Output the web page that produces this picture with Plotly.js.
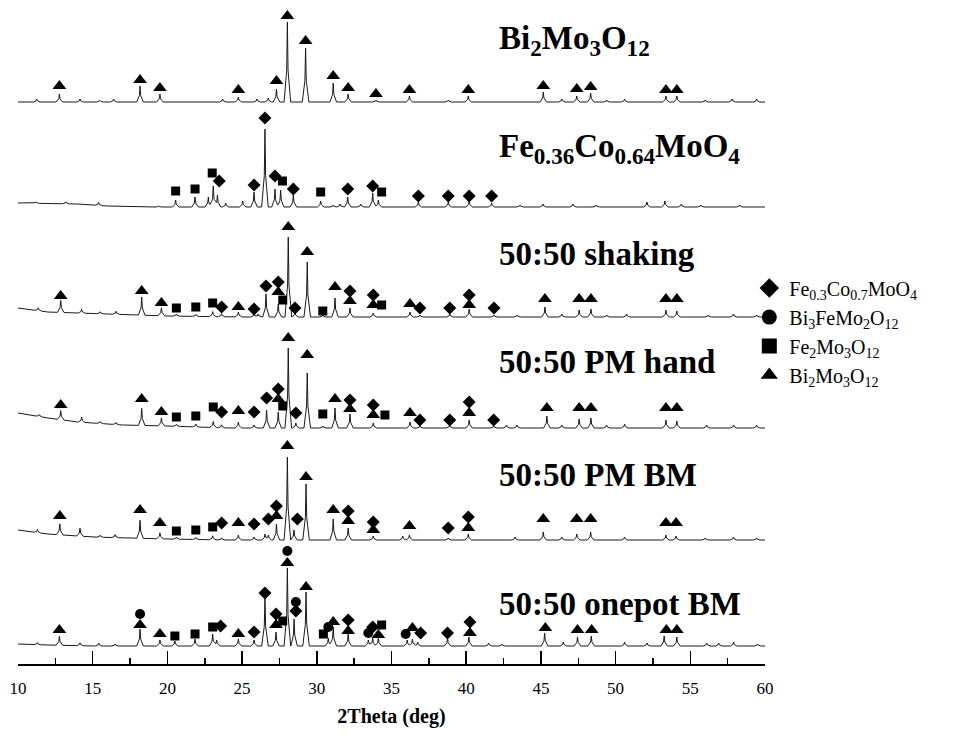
<!DOCTYPE html>
<html><head><meta charset="utf-8">
<script src="https://cdn.plot.ly/plotly-3.0.1.min.js"></script>
<style>body{margin:0;background:#fff}</style>
</head><body><div id="chart" style="width:965px;height:750px"></div>
<script>
// ---------------- DATA ----------------
const sampleNames = ["Bi<sub>2</sub>Mo<sub>3</sub>O<sub>12</sub>", "Fe<sub>0.36</sub>Co<sub>0.64</sub>MoO<sub>4</sub>", "50:50 shaking", "50:50 PM hand", "50:50 PM BM", "50:50 onepot BM"];
const phaseNames = ["Fe<sub>0.3</sub>Co<sub>0.7</sub>MoO<sub>4</sub>", "Bi<sub>3</sub>FeMo<sub>2</sub>O<sub>12</sub>", "Fe<sub>2</sub>Mo<sub>3</sub>O<sub>12</sub>", "Bi<sub>2</sub>Mo<sub>3</sub>O<sub>12</sub>"];
const phaseCodes = ["D", "C", "S", "T"];
const xTickVals = [10, 15, 20, 25, 30, 35, 40, 45, 50, 55, 60];

// Bi2Mo3O12
const bmoPeakPos = [11.25,12.77,14.15,15.5,16.4,18.17,19.5,23.7,24.75,26.0,26.75,27.3,28.03,29.25,31.1,32.1,33.96,36.2,38.8,40.14,45.16,46.4,47.4,48.33,49.4,50.6,53.37,54.1,56.0,57.8,59.44];
const bmoPeakInt = [3,8,3,1.5,3,16,8,3,5,3,4,13,80,54,19,8,2,6,2,6,10,3,6,9,2,3,6,6,2,3,3];
const bmoBgPos = [10,60];
const bmoBgInt = [0,0];
const bmoMarkPos = [12.77,18.17,19.5,24.75,27.3,28.03,29.25,31.1,32.1,33.96,36.2,40.14,45.16,47.4,48.33,53.37,54.1];
const bmoMarkInt = [16,22,14,12,21,86,61,26,14,8,12,12,16,13,15,12,12];
const bmoMarkPhase = ["T","T","T","T","T","T","T","T","T","T","T","T","T","T","T","T","T"];

// Fe0.36Co0.64MoO4
const fcmPeakPos = [11.2,13.2,15.4,19.4,20.55,21.85,22.74,23.07,23.35,23.9,25.04,25.8,26.53,27.2,27.58,28.43,30.26,31.1,31.55,32.07,32.94,33.74,34.12,36.8,38.8,40.2,41.7,43.6,45.14,47.15,48.7,52.1,53.3,54.4,55.7,58.3];
const fcmPeakInt = [1.5,2,3,1,7,10,10,21,12,4,6,15,78,18,17,12,6,2,3,10,3,14,7,5,5,6,4,2,3,3,2,5,6,3,2,2];
const fcmBgPos = [10,14,16,18,60];
const fcmBgInt = [4,3,1,0,0];
const fcmMarkPos = [20.55,21.85,23.0,27.7,30.26,34.34,23.47,25.8,26.53,27.2,28.43,32.07,33.74,36.8,38.8,40.2,41.7];
const fcmMarkInt = [16,18,34,26,15,15,26,22,89,31,18,18,21,11,11,11,11];
const fcmMarkPhase = ["S","S","S","S","S","S","D","D","D","D","D","D","D","D","D","D","D"];

// 50:50 shaking
const shkPeakPos = [11.36,12.86,14.26,15.5,16.56,18.28,19.6,20.6,21.9,23.03,23.63,24.75,25.8,26.07,26.6,27.42,28.09,28.54,29.36,30.4,31.22,32.22,33.78,36.24,36.9,38.9,40.2,41.86,43.4,45.27,46.4,47.56,48.35,49.4,50.74,53.37,54.1,56.2,57.88,59.44];
const shkPeakInt = [3,12,4,2,3,18,8,2,2,5,3,5,3,3,23,13,80,5,55,2,19,9,4,5,2,3,8,2,2,10,3,7,8,2,3,7,6,2,3,2];
const shkBgPos = [10,12,16,20,25,60];
const shkBgInt = [9,5,3,1,0,0];
const shkMarkPos = [12.86,18.28,19.6,24.75,27.42,28.09,29.36,31.22,32.22,33.78,36.24,40.2,45.27,47.56,48.35,53.37,54.1, 23.63,25.8,26.6,27.42,28.54,32.22,33.78,36.9,38.9,40.2,41.86, 20.6,21.9,23.03,27.72,30.4,34.34];
const shkMarkInt = [21,26,14,10,25,90,65,30,16,12,13,12,18,18,18,18,18, 10,8,31,35,9,26,22,9,9,22,9, 9,10,14,17,6,12];
const shkMarkPhase = ["T","T","T","T","T","T","T","T","T","T","T","T","T","T","T","T","T", "D","D","D","D","D","D","D","D","D","D","D", "S","S","S","S","S","S"];

// 50:50 PM hand
const pmhPeakPos = [11.43,12.86,14.26,15.5,16.56,18.28,19.6,20.6,21.9,23.07,23.63,24.75,25.8,26.64,27.42,28.09,28.6,29.36,30.4,31.22,32.22,33.78,36.24,36.9,38.9,40.2,41.84,42.7,43.4,45.4,46.4,47.56,48.35,49.4,50.6,53.37,54.1,56.1,57.9,59.44];
const pmhPeakInt = [2,9,5,2,2,17,8,2,3,6,3,6,3,18,16,80,5,55,2,20,14,5,6,2,3,8,2,3,3,12,3,9,10,3,4,8,7,3,3,3];
const pmhBgPos = [10,12,14,17,20,24,60];
const pmhBgInt = [15,10,6,3,2,0,0];
const pmhMarkPos = [12.86,18.28,19.6,24.75,27.42,28.09,29.36,31.22,32.22,33.78,36.24,40.2,45.4,47.56,48.35,53.37,54.1, 23.63,25.8,26.64,27.42,28.6,32.22,33.78,36.9,38.9,40.2,41.84, 20.6,21.9,23.07,27.72,30.4,34.56];
const pmhMarkInt = [23,29,16,17,29,90,73,29,19,13,15,15,20,20,20,20,20, 16,16,30,39,15,28,23,8,8,26,8, 11,12,21,22,14,13];
const pmhMarkPhase = ["T","T","T","T","T","T","T","T","T","T","T","T","T","T","T","T","T", "D","D","D","D","D","D","D","D","D","D","D", "S","S","S","S","S","S"];

// 50:50 PM BM
const pmbPeakPos = [11.3,12.8,14.15,15.5,16.5,18.17,19.5,20.6,21.9,23.03,23.63,24.75,25.8,26.53,26.76,27.3,28.03,28.47,29.28,31.1,32.1,33.78,35.75,36.2,38.8,40.14,43.27,45.16,46.4,47.4,48.33,50.6,53.37,54.05,56.0,57.88,59.44];
const pmbPeakInt = [3,11,8,2,3,18,6,2,2,4,2,5,3,6,5,16,83,10,56,21,12,4,4,5,2,6,3,8,3,6,8,3,5,4,2,3,2];
const pmbBgPos = [10,12,15,20,24,60];
const pmbBgInt = [10,6,3,1,0,0];
const pmbMarkPos = [12.8,18.17,19.5,24.75,27.3,28.03,29.28,31.1,32.1,33.78,36.2,40.14,45.16,47.4,48.33,53.37,54.05, 23.63,25.8,26.76,27.3,28.7,32.1,33.78,38.8,40.14, 20.6,21.9,23.03];
const pmbMarkInt = [24,30,17,17,24,94,63,30,19,10,14,12,21,21,21,17,17, 17,16,21,34,21,29,18,12,23, 9,10,13];
const pmbMarkPhase = ["T","T","T","T","T","T","T","T","T","T","T","T","T","T","T","T","T", "D","D","D","D","D","D","D","D","D", "S","S","S"];

// 50:50 onepot BM
const opbPeakPos = [11.3,12.77,14.15,15.4,16.5,18.17,19.5,20.5,21.85,23.03,23.3,24.75,25.8,26.53,27.27,28.03,28.48,29.28,30.77,31.1,32.1,33.45,33.74,34.12,36.05,36.4,36.75,38.75,40.18,41.5,42.4,45.25,46.5,47.45,48.37,50.6,52.1,53.25,54.1,56.1,56.9,57.9,59.5];
const opbPeakInt = [2,9,3,3,2,17,6,5,7,12,6,7,6,49,14,78,27,54,8,19,12,6,8,8,6,7,4,8,9,3,2,13,4,9,10,4,3,10,9,3,3,4,2];
const opbBgPos = [10,12,15,60];
const opbBgInt = [2,1,0,0];
const opbMarkPos = [12.77,18.17,19.5,24.75,27.27,28.03,29.28,31.1,32.1,34.12,36.4,40.25,45.3,47.45,48.4,53.4,54.1, 18.17,28.03,28.6,30.77,33.45,35.95, 23.56,25.8,26.53,27.27,28.6,32.1,33.74,36.95,38.75,40.25, 20.5,21.85,23.03,27.72,30.44,34.34];
const opbMarkInt = [16,21,12,12,21,83,59,24,15,11,18,13,18,16,16,16,16, 32,95,44,19,13,12, 20,14,53,32,35,26,19,13,13,24, 10,12,19,25,12,21];
const opbMarkPhase = ["T","T","T","T","T","T","T","T","T","T","T","T","T","T","T","T","T", "C","C","C","C","C","C", "D","D","D","D","D","D","D","D","D","D", "S","S","S","S","S","S"];

// ---------------- RENDERING ----------------
const FONT = "Liberation Serif, 'Times New Roman', serif";
const series = [
  {pos: bmoPeakPos, int: bmoPeakInt, bgX: bmoBgPos, bgY: bmoBgInt, mx: bmoMarkPos, my: bmoMarkInt, mp: bmoMarkPhase},
  {pos: fcmPeakPos, int: fcmPeakInt, bgX: fcmBgPos, bgY: fcmBgInt, mx: fcmMarkPos, my: fcmMarkInt, mp: fcmMarkPhase},
  {pos: shkPeakPos, int: shkPeakInt, bgX: shkBgPos, bgY: shkBgInt, mx: shkMarkPos, my: shkMarkInt, mp: shkMarkPhase},
  {pos: pmhPeakPos, int: pmhPeakInt, bgX: pmhBgPos, bgY: pmhBgInt, mx: pmhMarkPos, my: pmhMarkInt, mp: pmhMarkPhase},
  {pos: pmbPeakPos, int: pmbPeakInt, bgX: pmbBgPos, bgY: pmbBgInt, mx: pmbMarkPos, my: pmbMarkInt, mp: pmbMarkPhase},
  {pos: opbPeakPos, int: opbPeakInt, bgX: opbBgPos, bgY: opbBgInt, mx: opbMarkPos, my: opbMarkInt, mp: opbMarkPhase}
];
// stacking offsets and label placement (layout, not data)
const offsets = [562, 457, 347, 236, 124, 18];
const labelY = [624, 516, 410, 302, 189, 60];
const labelX = 42.06;
// peak drawing style: half-width at foot, half-width of the sharp tip, relative height of the knee
const W0 = 0.22, W1 = 0.045, KNEE = 0.4;

function interp(xs, ys, x) {
  for (let i = 0; i < xs.length - 1; i++) {
    if (x >= xs[i] && x <= xs[i+1]) return ys[i] + (ys[i+1]-ys[i]) * (x - xs[i]) / (xs[i+1]-xs[i]);
  }
  return 0;
}
function profile(x, p, h) {
  const d = Math.abs(x - p);
  if (d >= W0) return 0;
  if (d <= W1) return h * (1 - (1 - KNEE) * d / W1);
  return h * KNEE * (W0 - d) / (W0 - W1);
}
function curve(s, off) {
  const set = new Set([10, 60, ...s.bgX]);
  s.pos.forEach(p => [-W0, -W1, 0, W1, W0].forEach(d => {
    const v = +(p + d).toFixed(4);
    if (v >= 10 && v <= 60) set.add(v);
  }));
  const X = Array.from(set).sort((a, b) => a - b);
  const Y = X.map(x => off + interp(s.bgX, s.bgY, x) + s.pos.reduce((acc, p, i) => acc + profile(x, p, s.int[i]), 0));
  return {X, Y};
}

const traces = [];
series.forEach((s, k) => {
  const c = curve(s, offsets[k]);
  traces.push({x: c.X, y: c.Y, type: 'scatter', mode: 'lines', line: {color: '#1a1a1a', width: 1}, showlegend: false, hoverinfo: 'skip', cliponaxis: false});
});
const symbolOf = {D: 'diamond', C: 'circle', S: 'square', T: 'triangle-up'};
const sizeOf = {D: 10, C: 10, S: 9, T: 12};
phaseCodes.forEach(code => {
  const xs = [], ys = [];
  series.forEach((s, k) => s.mx.forEach((x, i) => { if (s.mp[i] === code) { xs.push(x); ys.push(offsets[k] + s.my[i]); } }));
  traces.push({x: xs, y: ys, type: 'scatter', mode: 'markers', showlegend: false, cliponaxis: false,
    marker: {symbol: symbolOf[code], size: sizeOf[code], color: '#000'}, hoverinfo: 'x'});
});
// legend entries
phaseCodes.forEach((code, i) => {
  traces.push({x: [null], y: [null], type: 'scatter', mode: 'markers', name: phaseNames[i], showlegend: true,
    marker: {symbol: symbolOf[code], size: 15, color: '#000'}});
});

const annotations = sampleNames.map((t, k) => ({
  xref: 'x', yref: 'y', x: labelX, y: labelY[k], xanchor: 'left', yanchor: 'middle',
  text: '<b>' + t + '</b>', showarrow: false, font: {family: FONT, size: 33, color: '#000'}
}));

const layout = {
  width: 965, height: 750,
  margin: {l: 18, r: 200, t: 0, b: 86},
  paper_bgcolor: '#fff', plot_bgcolor: '#fff',
  showlegend: true,
  legend: {x: 0.979, xanchor: 'left', y: 0.5955, yanchor: 'top', font: {family: FONT, size: 20, color: '#000'}, bgcolor: 'rgba(0,0,0,0)', itemwidth: 30},
  xaxis: {
    range: [10, 60], showline: true, linecolor: '#000', linewidth: 2, mirror: false,
    showgrid: false, zeroline: false,
    tickmode: 'array', tickvals: xTickVals, ticktext: xTickVals.map(String),
    ticks: 'inside', ticklen: 13, tickwidth: 1.5, tickcolor: '#000',
    minor: {dtick: 2.5, tick0: 10, ticks: 'inside', ticklen: 6, tickwidth: 1.5, tickcolor: '#000', showgrid: false},
    tickfont: {family: FONT, size: 17, color: '#000'}, ticklabelstandoff: 8,
    title: {text: '<b>2Theta (deg)</b>', font: {family: FONT, size: 20, color: '#000'}, standoff: 12}
  },
  yaxis: {range: [0, 664], visible: false, fixedrange: true},
  annotations: annotations
};
Plotly.newPlot('chart', traces, layout, {displayModeBar: false, staticPlot: true});
</script></body></html>
